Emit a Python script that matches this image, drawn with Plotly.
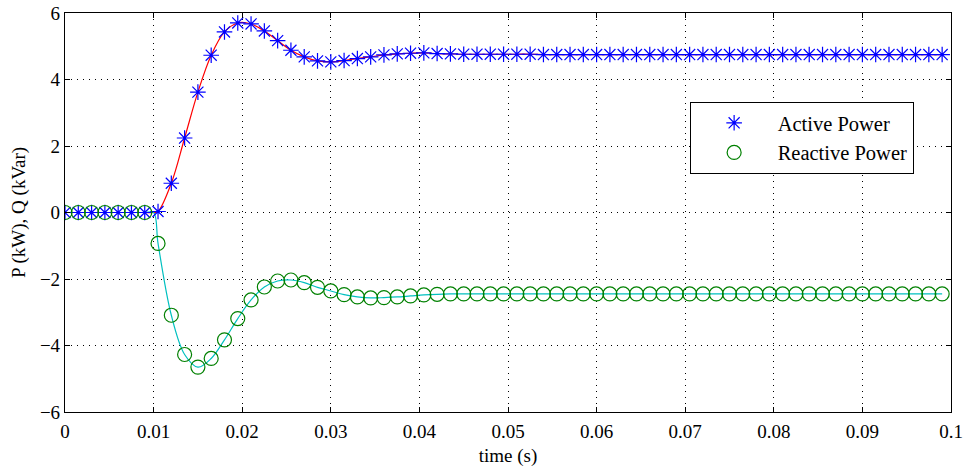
import plotly.graph_objects as go

# sample times of the markers (s)
t = [round(k * 0.0015, 4) for k in range(67)]

# Active power P (kW) at marker times
P = [0, 0, 0, 0, 0, 0, 0, 0.03, 0.88, 2.24, 3.62, 4.73, 5.43, 5.70, 5.67, 5.46,
     5.17, 4.88, 4.68, 4.56, 4.53, 4.57, 4.63, 4.68, 4.74, 4.77, 4.79, 4.80, 4.78,
     4.77] + [4.76] * 6 + [4.75] * 31

# Reactive power Q (kVar) at marker times
Q = [0, 0, 0, 0, 0, 0, 0, -0.93, -3.09, -4.27, -4.65, -4.39, -3.83, -3.19, -2.63,
     -2.24, -2.06, -2.03, -2.11, -2.25, -2.36, -2.47, -2.54, -2.57, -2.56, -2.54,
     -2.51, -2.48, -2.46] + [-2.45] * 38

# point where the curves leave zero
t_step = 0.01
i_step = 7
t_line = t[:i_step] + [t_step] + t[i_step:]
P_line = P[:i_step] + [0] + P[i_step:]
Q_line = Q[:i_step] + [0] + Q[i_step:]

x_ticks = [0, 0.01, 0.02, 0.03, 0.04, 0.05, 0.06, 0.07, 0.08, 0.09, 0.1]
x_labels = ["0", "0.01", "0.02", "0.03", "0.04", "0.05", "0.06", "0.07", "0.08", "0.09", "0.1"]
y_ticks = [-6, -4, -2, 0, 2, 4, 6]
y_labels = ["\u22126", "\u22124", "\u22122", "0", "2", "4", "6"]

FONT = "Liberation Serif, Times New Roman, serif"

fig = go.Figure()
fig.add_trace(go.Scatter(x=t_line, y=P_line, mode="lines", line=dict(color="#FF0000", width=1.2, shape="spline"),
                         showlegend=False, hoverinfo="skip"))
fig.add_trace(go.Scatter(x=t_line, y=Q_line, mode="lines", line=dict(color="#00C0C0", width=1.2, shape="spline"),
                         showlegend=False, hoverinfo="skip"))
fig.add_trace(go.Scatter(x=t, y=P, mode="markers", name="Active Power",
                         marker=dict(symbol="asterisk-open", size=13, color="#0000FF",
                                     line=dict(color="#0000FF", width=1.2))))
fig.add_trace(go.Scatter(x=t, y=Q, mode="markers", name="Reactive Power",
                         marker=dict(symbol="circle-open", size=14, color="#008000",
                                     line=dict(color="#008000", width=1.2))))

axis_common = dict(showline=True, linecolor="black", linewidth=1.2, mirror="ticks",
                   ticks="inside", ticklen=5, tickcolor="black", tickwidth=1,
                   showgrid=True, gridcolor="black", gridwidth=1, griddash="1px,5px",
                   zeroline=False, automargin=False,
                   tickfont=dict(family=FONT, size=19, color="black"))

fig.update_xaxes(range=[0, 0.1], tickvals=x_ticks, ticktext=x_labels, ticklabelstandoff=2,
                 title=dict(text="time (s)", font=dict(family=FONT, size=19, color="black"), standoff=8),
                 **axis_common)
fig.update_yaxes(range=[-6, 6], tickvals=y_ticks, ticktext=y_labels,
                 title=dict(text="P (kW), Q (kVar)", font=dict(family=FONT, size=19, color="black"), standoff=9),
                 **axis_common)

fig.update_layout(
    width=967, height=467,
    margin=dict(l=65, r=16, t=13, b=55),
    plot_bgcolor="white", paper_bgcolor="white",
    font=dict(family=FONT, size=19, color="black"),
    legend=dict(x=0.705, y=0.777, xanchor="left", yanchor="top",
                bgcolor="white", bordercolor="black", borderwidth=1,
                font=dict(family=FONT, size=20.5, color="black"),
                itemwidth=77, tracegroupgap=0),
)

fig.write_html("out.html", config={"displayModeBar": False},
               post_script="document.body.style.margin='0';document.body.style.overflow='hidden';")
